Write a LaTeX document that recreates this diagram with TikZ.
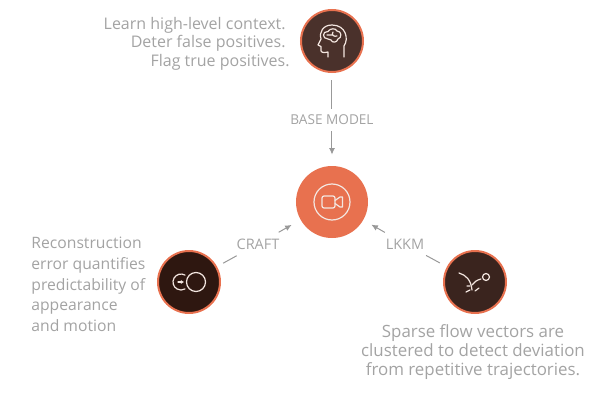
\documentclass[tikz,border=0pt]{standalone}
\usepackage{fontspec}
\setmainfont{Open Sans}
\usetikzlibrary{positioning,arrows.meta}
\definecolor{rim}{HTML}{E8714F}
\definecolor{brainfill}{HTML}{4A312B}
\definecolor{craftfill}{HTML}{2E1710}
\definecolor{lkkmfill}{HTML}{3A241E}
\definecolor{txtgray}{HTML}{A3A3A3}
\definecolor{icon}{HTML}{F3E6E0}
\begin{document}
\begin{tikzpicture}[x=1pt, y=1pt, thick,
    main/.style = {draw=rim, circle, line width=2pt, minimum size=62pt, inner sep=0pt},
    hub/.style = {circle, fill=rim, minimum size=72pt, inner sep=0pt},
    method/.style = {text=txtgray, inner xsep=1.5pt, inner ysep=6pt},
    blurb/.style = {text=txtgray, inner sep=0pt},
    link/.style = {draw=black!40, line width=1pt},
    arrow/.style = {link, -{Latex[length=6.5pt,width=6pt]}},
    ic/.style = {draw=icon, line width=1.2pt, line cap=round, line join=round}]
  \useasboundingbox (-332,-203) rectangle (284,202);

  \node[hub] (video) at (0,0) {};
  \node[main, fill=brainfill] (base) at (0,161) {};
  \node[main, fill=craftfill] (craft) at (-143,-80) {};
  \node[main, fill=lkkmfill] (lkkm) at (143,-80) {};

  \node[method, font=\fontsize{13.6}{15}\selectfont] (baselabel) at (0,82) {BASE MODEL};
  \node[method, font=\fontsize{14.5}{16}\selectfont] (craftlabel) at (-74,-42) {CRAFT};
  \node[method, font=\fontsize{14.5}{16}\selectfont] (lkkmlabel) at (73,-42) {LKKM};

  \node[blurb, align=right, anchor=east, font=\fontsize{16}{18.5}\selectfont] (basetext) at (-46,158.5) {Learn high-level context.\\Deter false positives.\\Flag true positives.\hspace*{-4pt}};
  \node[blurb, align=left, anchor=west, font=\fontsize{15.7}{20.6}\selectfont] (crafttext) at (-301,-82.5) {Reconstruction\\error quantifies\\predictability of\\appearance\\and motion};
  \node[blurb, align=center, font=\fontsize{16.9}{19}\selectfont] (lkkmtext) at (141,-150) {Sparse flow vectors are\\clustered to detect deviation\\from repetitive trajectories.};

  \draw[link, shorten <=7pt] (base) -- (baselabel);
  \draw[arrow, shorten >=11pt] (baselabel) -- (video);
  \draw[link, shorten <=7pt] (craft) -- (craftlabel);
  \draw[arrow, shorten >=10pt] (craftlabel) -- (video);
  \draw[link, shorten <=8pt] (lkkm) -- (lkkmlabel);
  \draw[arrow, shorten >=9pt] (lkkmlabel) -- (video);

  % camera icon
  \begin{scope}[shift={(video.center)}]
    \draw[ic] (0,0) circle (18pt);
    \draw[ic, rounded corners=2pt] (-10,-6) rectangle (3,6);
    \draw[ic] (3,-1.5) -- (8,-5) -- (10.5,-5) -- (10.5,5) -- (8,5) -- (3,1.5);
  \end{scope}

  % head and brain icon
  \begin{scope}[shift={(base.center)}]
    \draw[ic] (12,-16) -- (12,-5) .. controls (17,2) and (14,16) .. (0,16)
      .. controls (-9,16) and (-13,9) .. (-11,2) -- (-14,-4) -- (-11,-5.5)
      -- (-11,-10) .. controls (-10,-12) and (-6,-12) .. (-4,-11) -- (-4,-16);
    \draw[ic] (-4,2) .. controls (-10,2) and (-10,10) .. (-4,9.5)
      .. controls (-2,13) and (4,13) .. (5,10) .. controls (10,10) and (10,3) .. (6,2)
      .. controls (5,-2) and (0,-2) .. (-1,1) .. controls (-2,2) and (-3,2) .. (-4,2);
    \draw[ic] (-5,6) -- (0,6) (1,9) .. controls (-1,6) and (2,4) .. (5,5);
  \end{scope}

  % two circles icon
  \begin{scope}[shift={(craft.center)}]
    \draw[ic] (7,0) circle (9.5pt);
    \draw[ic] (-4,6.9) arc (60:300:8pt);
    \draw[ic, -{Latex[length=3pt,width=4pt]}] (-11,0) -- (-5,0);
  \end{scope}

  % trajectory icon
  \begin{scope}[shift={(lkkm.center)}]
    \draw[ic] (11,5) circle (3.5pt);
    \draw[ic] (-16,9) .. controls (-9,7) and (-4,2) .. (-3,-8);
    \draw[ic] (-3,-3) .. controls (-1,0) and (2,2) .. (6,3);
    \draw[ic] (-9,-10) -- (-5,-8) (0,-9) -- (4,-6) (-8,-4) -- (-5,-4);
  \end{scope}
\end{tikzpicture}
\end{document}
